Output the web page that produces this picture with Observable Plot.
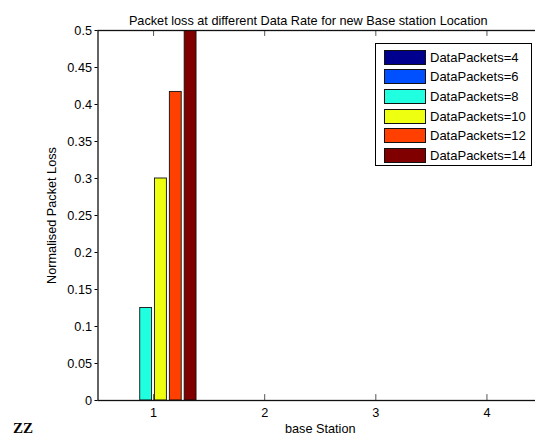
<!DOCTYPE html>
<html><head><meta charset="utf-8">
<script src="https://cdn.jsdelivr.net/npm/d3@7"></script>
<script src="https://cdn.jsdelivr.net/npm/@observablehq/plot@0.6"></script>
<style>
body{margin:0;background:#fff;}
#wrap{position:relative;width:535px;height:441px;overflow:hidden;font-family:"Liberation Sans",Arial,sans-serif;}
#legend{position:absolute;left:375px;top:43px;width:157px;height:123px;border:1px solid #000;background:#fff;box-sizing:border-box;}
.row{position:absolute;left:8px;height:15px;display:flex;align-items:center;font-size:13px;color:#000;white-space:nowrap;}
.sw{width:42px;height:15px;border:1px solid #111;box-sizing:border-box;margin-right:4px;}
#zz{position:absolute;left:13px;top:420px;font-family:"Liberation Serif","DejaVu Serif",serif;font-weight:bold;font-size:15px;}
</style></head><body><div id="wrap"></div>
<script>
const stations = [1, 2, 3, 4];
const seriesNames = ["DataPackets=4","DataPackets=6","DataPackets=8","DataPackets=10","DataPackets=12","DataPackets=14"];
const seriesColors = ["#00008f","#0050ff","#20ffdf","#efff10","#ff4000","#800000"];
const loss4  = [0, 0, 0, 0];
const loss6  = [0, 0, 0, 0];
const loss8  = [0.125, 0, 0, 0];
const loss10 = [0.3, 0, 0, 0];
const loss12 = [0.417, 0, 0, 0];
const loss14 = [0.5, 0, 0, 0];
const yTicks = [0, 0.05, 0.1, 0.15, 0.2, 0.25, 0.3, 0.35, 0.4, 0.45, 0.5];
const yTickLabels = ["0","0.05","0.1","0.15","0.2","0.25","0.3","0.35","0.4","0.45","0.5"];
const titleText = "Packet loss at different Data Rate for new Base station Location";
const xLabel = "base Station";
const yLabel = "Normalised Packet Loss";

const allSeries = [loss4, loss6, loss8, loss10, loss12, loss14];
const nS = allSeries.length;
const groupW = 0.8, spacing = groupW / nS, barW = spacing * 0.8;
const rows = [];
allSeries.forEach((vals, i) => {
  vals.forEach((v, j) => {
    const c = stations[j] + (i - (nS - 1) / 2) * spacing;
    rows.push({series: seriesNames[i], value: v, x1: c - barW / 2, x2: c + barW / 2});
  });
});

const fs = 12.7;
const chart = Plot.plot({
  width: 535, height: 441,
  marginLeft: 97.5, marginRight: -7, marginTop: 30, marginBottom: 41,
  style: {fontFamily: '"Liberation Sans", Arial, sans-serif', fontSize: fs + "px", color: "#000", background: "#fff"},
  x: {type: "linear", domain: [0.5, 4.5]},
  y: {domain: [0, 0.5]},
  color: {domain: seriesNames, range: seriesColors},
  marks: [
    Plot.rectY(rows, {x1: "x1", x2: "x2", y1: 0, y2: "value", fill: "series", stroke: "#111", strokeWidth: 0.9, clip: true}),
    Plot.ruleX(stations, {x: d => d, y1: 0, y2: 0.008, stroke: "#555"}),
    Plot.ruleX(stations, {x: d => d, y1: 0.492, y2: 0.5, stroke: "#555"}),
    Plot.frame({stroke: "#111", strokeWidth: 1.3}),
    Plot.axisY({ticks: yTicks, tickFormat: d => yTickLabels[yTicks.indexOf(d)], tickSize: 3, tickPadding: 3, label: null, fontSize: fs}),
    Plot.axisX({ticks: stations, tickFormat: d => String(d), tickSize: 0, tickPadding: 7, label: null, fontSize: fs}),
    Plot.text([xLabel], {text: d => d, frameAnchor: "bottom", dy: 32, fontSize: fs}),
    Plot.text([yLabel], {text: d => d, frameAnchor: "left", textAnchor: "middle", dx: -46, rotate: -90, fontSize: fs}),
    Plot.text([titleText], {text: d => d, frameAnchor: "top", dy: -15, dx: -12, fontSize: fs})
  ]
});
const wrap = document.getElementById("wrap");
wrap.appendChild(chart);

const legend = document.createElement("div");
legend.id = "legend";
seriesNames.forEach((n, i) => {
  const r = document.createElement("div");
  r.className = "row";
  r.style.top = (5.5 + i * 19.7) + "px";
  const sw = document.createElement("div");
  sw.className = "sw";
  sw.style.background = seriesColors[i];
  r.appendChild(sw);
  const t = document.createElement("span");
  t.textContent = n;
  r.appendChild(t);
  legend.appendChild(r);
});
wrap.appendChild(legend);
const zz = document.createElement("div");
zz.id = "zz";
zz.textContent = "ZZ";
wrap.appendChild(zz);
</script></body></html>
